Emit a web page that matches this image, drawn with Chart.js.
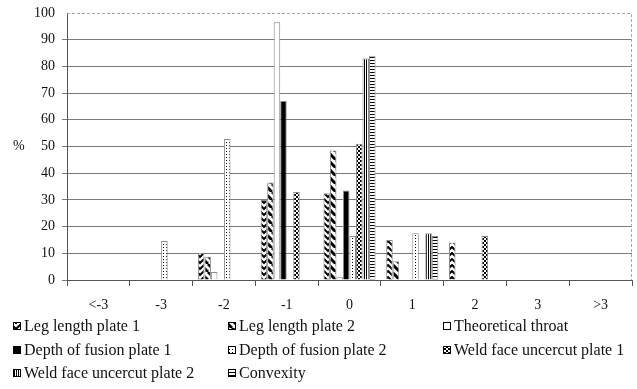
<!DOCTYPE html>
<html>
<head>
<meta charset="utf-8">
<script src="https://cdn.jsdelivr.net/npm/chart.js@4/dist/chart.umd.min.js"></script>
<style>
  html, body { margin: 0; padding: 0; background: #fff; }
  #wrap { width: 637px; height: 389px; position: relative; }
</style>
</head>
<body>
<div id="wrap"><canvas id="chart" width="637" height="389"></canvas></div>
<script>
const categories = ['<-3', '-3', '-2', '-1', '0', '1', '2', '3', '>3'];

const legLength1     = [null, null, 10.2, 30,   32.5, 15,   14,   null, null];
const legLength2     = [null, null, 8.7,  36.5, 48.5, 7,    null, null, null];
const theoThroat     = [null, null, 3,    96.5, 1,    null, null, null, null];
const fusionDepth1   = [null, null, null, 67,   33.5, null, null, null, null];
const fusionDepth2   = [null, 14.6, 52.8, null, 16.5, 17.5, null, null, null];
const faceUndercut1  = [null, null, null, 33,   51,   null, 16.5, null, null];
const faceUndercut2  = [null, null, null, null, 83,   17.5, null, null, null];
const convexity      = [null, null, null, null, 84,   16.5, null, null, null];

const yTicks = { min: 0, max: 100, step: 10 };

const serif = '"Liberation Serif", "Times New Roman", serif';

// small repeating tiles used as bar fills
function tile(w, h, draw) {
  const c = document.createElement('canvas');
  c.width = w; c.height = h;
  const g = c.getContext('2d');
  g.fillStyle = '#fff';
  g.fillRect(0, 0, w, h);
  g.fillStyle = '#000';
  g.strokeStyle = '#000';
  draw(g, w, h);
  return g.createPattern(c, 'repeat');
}

const chevrons = tile(8, 6, g => {
  g.lineWidth = 2;
  for (const dy of [0, 6]) {
    g.beginPath();
    g.moveTo(-1, dy); g.lineTo(4, dy - 5); g.lineTo(9, dy);
    g.stroke();
  }
});
const backDiag = tile(8, 8, g => {
  g.lineWidth = 3;
  for (const k of [-8, 0, 8]) {
    g.beginPath(); g.moveTo(k, 0); g.lineTo(k + 8, 8); g.stroke();
  }
});
const dots = tile(3, 3, g => g.fillRect(1, 1, 1, 1));
const checker = tile(4, 4, g => { g.fillRect(0, 0, 2, 2); g.fillRect(2, 2, 2, 2); });
const vLines = tile(2, 1, g => g.fillRect(0, 0, 1, 1));
const hLines = tile(1, 3, g => g.fillRect(0, 0, 1, 1));

const series = [
  { label: 'Leg length plate 1', data: legLength1, fill: chevrons },
  { label: 'Leg length plate 2', data: legLength2, fill: backDiag },
  { label: 'Theoretical throat', data: theoThroat, fill: '#ffffff' },
  { label: 'Depth of fusion plate 1', data: fusionDepth1, fill: '#000000' },
  { label: 'Depth of fusion plate 2', data: fusionDepth2, fill: dots },
  { label: 'Weld face uncercut plate 1', data: faceUndercut1, fill: checker },
  { label: 'Weld face uncercut plate 2', data: faceUndercut2, fill: vLines },
  { label: 'Convexity', data: convexity, fill: hLines },
];

// "%" beside the value axis, dashed frame on top/right, legend grid below
const extras = {
  id: 'extras',
  afterDraw(chart) {
    const ctx = chart.ctx;
    const a = chart.chartArea;
    const y = chart.scales.y;
    ctx.save();

    ctx.strokeStyle = '#a8a8a8';
    ctx.lineWidth = 1;
    ctx.setLineDash([3, 2]);
    ctx.beginPath();
    ctx.moveTo(a.left, a.top + 0.5);
    ctx.lineTo(a.right - 0.5, a.top + 0.5);
    ctx.lineTo(a.right - 0.5, a.bottom);
    ctx.stroke();
    ctx.setLineDash([]);

    ctx.fillStyle = '#111';
    ctx.font = '14px ' + serif;
    ctx.textBaseline = 'middle';
    ctx.textAlign = 'left';
    ctx.fillText('%', 13, y.getPixelForValue(50));

    const colX = [13, 228, 443];
    const rowY = [326, 350, 373];
    ctx.font = '16px ' + serif;
    chart.data.datasets.forEach((ds, i) => {
      const x = colX[i % 3];
      const yy = rowY[Math.floor(i / 3)];
      ctx.fillStyle = ds.backgroundColor;
      ctx.fillRect(x, yy - 4, 8, 8);
      ctx.strokeStyle = '#000';
      ctx.strokeRect(x + 0.5, yy - 3.5, 7, 7);
      ctx.fillStyle = '#111';
      ctx.fillText(ds.label, x + 11, yy + 1);
    });
    ctx.restore();
  }
};

new Chart(document.getElementById('chart'), {
  type: 'bar',
  data: {
    labels: categories,
    datasets: series.map(s => ({
      label: s.label,
      data: s.data,
      backgroundColor: s.fill,
      borderColor: '#8a8a8a',
      borderWidth: 1,
      categoryPercentage: 0.83,
      barPercentage: 1,
    })),
  },
  options: {
    responsive: false,
    animation: false,
    devicePixelRatio: 1,
    layout: { padding: { top: 13, right: 5, bottom: 74, left: 0 } },
    plugins: {
      legend: { display: false },
      tooltip: { enabled: false },
    },
    scales: {
      x: {
        grid: { drawOnChartArea: false, tickLength: 6, color: '#555' },
        border: { color: '#555' },
        ticks: { color: '#111', font: { family: serif, size: 14 }, padding: 11 },
        afterFit(scale) { scale.height = 35; },
      },
      y: {
        min: yTicks.min,
        max: yTicks.max,
        grid: {
          tickLength: 5,
          color: ctx => (ctx.tick && ctx.tick.value === yTicks.max ? 'rgba(0,0,0,0)' : '#7a7a7a'),
        },
        border: { color: '#555' },
        ticks: { stepSize: yTicks.step, color: '#111', font: { family: serif, size: 14 }, padding: 7 },
        afterFit(scale) { scale.width = 67; scale.paddingTop = 0; scale.paddingBottom = 0; },
      },
    },
  },
  plugins: [extras],
});
</script>
</body>
</html>
